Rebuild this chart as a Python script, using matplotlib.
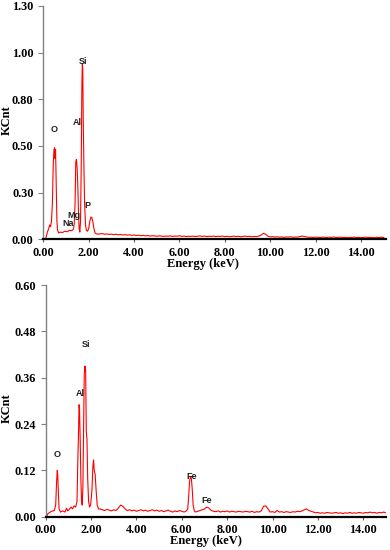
import matplotlib
matplotlib.use("Agg")
import matplotlib.pyplot as plt

# ---------------- data ----------------
# Top spectrum
top_energy = [
    0.00, 0.08, 0.12, 0.18, 0.24, 0.28, 0.32, 0.36, 0.40, 0.44,
    0.47, 0.50, 0.52, 0.54, 0.57, 0.60, 0.63, 0.68, 0.75, 0.85,
    0.95, 1.05, 1.15, 1.25, 1.32, 1.36, 1.40, 1.43, 1.46, 1.49,
    1.52, 1.55, 1.58, 1.61, 1.64, 1.67, 1.70, 1.72, 1.74, 1.76,
    1.79, 1.82, 1.86, 1.90, 1.95, 2.00, 2.05, 2.10, 2.14, 2.18,
    2.23, 2.28, 2.35, 2.42,
    2.5, 2.6, 2.7, 2.8, 2.9, 3.0, 3.1, 3.2, 3.3, 3.4,
    3.5, 3.6, 3.7, 3.8, 3.9, 4.0, 4.1, 4.2, 4.3, 4.4,
    4.5, 4.6, 4.7, 4.8, 4.9, 5.0, 5.1, 5.2, 5.3, 5.4,
    5.5, 5.6, 5.7, 5.8, 5.9, 6.0, 6.1, 6.2, 6.3, 6.4,
    6.5, 6.6, 6.7, 6.8, 6.9, 7.0, 7.1, 7.2, 7.3, 7.4,
    7.5, 7.6, 7.7, 7.8, 7.9, 8.0, 8.1, 8.2, 8.3, 8.4,
    8.5, 8.6, 8.7, 8.8, 8.9, 9.0, 9.1, 9.2, 9.3, 9.4,
    9.5, 9.6, 9.7, 9.8, 9.9, 10.0, 10.1, 10.2, 10.3, 10.4,
    10.5, 10.6, 10.7, 10.8, 10.9, 11.0, 11.1, 11.2, 11.3, 11.4,
    11.5, 11.6, 11.7, 11.8, 11.9, 12.0, 12.1, 12.2, 12.3, 12.4,
    12.5, 12.6, 12.7, 12.8, 12.9, 13.0, 13.1, 13.2, 13.3, 13.4,
    13.5, 13.6, 13.7, 13.8, 13.9, 14.0, 14.1, 14.2, 14.3, 14.4,
    14.5, 14.6, 14.7, 14.8, 14.9, 15.0,
]
top_counts = [
    0.000, 0.000, 0.010, 0.040, 0.060, 0.080, 0.070, 0.100, 0.200, 0.420,
    0.500, 0.510, 0.450, 0.500, 0.300, 0.100, 0.050, 0.035, 0.040, 0.038,
    0.045, 0.042, 0.050, 0.048, 0.055, 0.080, 0.200, 0.430, 0.445, 0.400,
    0.300, 0.150, 0.060, 0.040, 0.100, 0.400, 0.860, 0.980, 0.950, 0.660,
    0.400, 0.200, 0.080, 0.050, 0.045, 0.060, 0.100, 0.125, 0.120, 0.100,
    0.060, 0.035, 0.030, 0.029,
    0.030, 0.032, 0.028, 0.030, 0.027, 0.029, 0.026, 0.028, 0.025, 0.027,
    0.024, 0.026, 0.023, 0.025, 0.022, 0.024, 0.021, 0.023, 0.020, 0.022,
    0.019, 0.021, 0.018, 0.020, 0.019, 0.017, 0.019, 0.018, 0.016, 0.018,
    0.017, 0.019, 0.016, 0.018, 0.017, 0.020, 0.016, 0.018, 0.015, 0.017,
    0.016, 0.018, 0.015, 0.017, 0.019, 0.016, 0.018, 0.015, 0.017, 0.016,
    0.018, 0.015, 0.017, 0.016, 0.018, 0.015, 0.017, 0.014, 0.016, 0.018,
    0.015, 0.017, 0.014, 0.016, 0.018, 0.015, 0.017, 0.014, 0.016, 0.015,
    0.018, 0.024, 0.033, 0.028, 0.016, 0.013, 0.015, 0.012, 0.014, 0.012,
    0.013, 0.011, 0.013, 0.012, 0.014, 0.011, 0.013, 0.012, 0.015, 0.018,
    0.016, 0.013, 0.011, 0.012, 0.010, 0.012, 0.011, 0.010, 0.012, 0.011,
    0.010, 0.012, 0.011, 0.013, 0.010, 0.011, 0.012, 0.010, 0.011, 0.009,
    0.011, 0.010, 0.012, 0.010, 0.011, 0.009, 0.010, 0.012, 0.010, 0.011,
    0.010, 0.009, 0.011, 0.010, 0.012, 0.010,
]
top_labels = ["O", "Al", "Si", "Na", "Mg", "P"]
top_label_E = [0.48, 1.51, 1.76, 1.10, 1.35, 1.94]
top_label_v = [0.61, 0.653, 0.99, 0.089, 0.135, 0.186]
top_yticks = [0.0, 0.26, 0.52, 0.78, 1.04, 1.30]
top_yticklabels = ["0.00", "0.30", "0.50", "0.80", "1.00", "1.30"]

# Bottom spectrum
bot_energy = [
    0.00, 0.05, 0.10, 0.20, 0.30, 0.38, 0.44, 0.48, 0.51, 0.53,
    0.56, 0.59, 0.65, 0.75, 0.85, 0.92, 0.97, 1.05, 1.12, 1.18,
    1.25, 1.32, 1.38, 1.41, 1.44, 1.47, 1.49, 1.52, 1.55, 1.58,
    1.61, 1.64, 1.67, 1.70, 1.73, 1.76, 1.79, 1.82, 1.85, 1.89,
    1.93, 1.98, 2.04, 2.08, 2.11, 2.14, 2.18, 2.22, 2.27, 2.33,
    2.4, 2.5, 2.6, 2.7, 2.8, 2.9, 3.0, 3.1, 3.2, 3.3,
    3.4, 3.5, 3.6, 3.7, 3.8, 3.9, 4.0, 4.1, 4.2, 4.3,
    4.4, 4.5, 4.6, 4.7, 4.8, 4.9, 5.0, 5.1, 5.2, 5.3,
    5.4, 5.5, 5.6, 5.7, 5.8, 5.9, 6.0, 6.1, 6.2,
    6.26, 6.30, 6.34, 6.38, 6.42, 6.46, 6.50, 6.55,
    6.6, 6.7, 6.8, 6.9, 7.0, 7.1, 7.2, 7.3, 7.4, 7.5,
    7.6, 7.7, 7.8, 7.9, 8.0, 8.1, 8.2, 8.3, 8.4, 8.5,
    8.6, 8.7, 8.8, 8.9, 9.0, 9.1, 9.2, 9.3, 9.4, 9.5,
    9.6, 9.7, 9.8, 9.9, 10.0, 10.1, 10.2, 10.3, 10.4, 10.5,
    10.6, 10.7, 10.8, 10.9, 11.0, 11.1, 11.2, 11.3, 11.4, 11.5,
    11.6, 11.7, 11.8, 11.9, 12.0, 12.1, 12.2, 12.3, 12.4, 12.5,
    12.6, 12.7, 12.8, 12.9, 13.0, 13.1, 13.2, 13.3, 13.4, 13.5,
    13.6, 13.7, 13.8, 13.9, 14.0, 14.1, 14.2, 14.3, 14.4, 14.5,
    14.6, 14.7, 14.8, 14.9, 15.0,
]
bot_counts = [
    0.000, 0.002, 0.008, 0.012, 0.015, 0.016, 0.030, 0.090, 0.120, 0.110,
    0.060, 0.020, 0.012, 0.015, 0.012, 0.022, 0.015, 0.020, 0.025, 0.020,
    0.028, 0.025, 0.040, 0.130, 0.200, 0.290, 0.280, 0.200, 0.100, 0.040,
    0.030, 0.080, 0.220, 0.370, 0.390, 0.380, 0.220, 0.200, 0.100, 0.040,
    0.025, 0.030, 0.070, 0.130, 0.147, 0.120, 0.110, 0.070, 0.030, 0.020,
    0.020, 0.018, 0.016, 0.019, 0.017, 0.015, 0.018, 0.016, 0.022, 0.030,
    0.027, 0.020, 0.016, 0.018, 0.015, 0.017, 0.014, 0.016, 0.018, 0.015,
    0.017, 0.014, 0.016, 0.018, 0.015, 0.017, 0.014, 0.016, 0.013, 0.015,
    0.017, 0.014, 0.012, 0.015, 0.013, 0.016, 0.014, 0.012, 0.015,
    0.020, 0.050, 0.090, 0.104, 0.100, 0.070, 0.030, 0.015,
    0.012, 0.014, 0.016, 0.018, 0.020, 0.025, 0.022, 0.016, 0.014, 0.013,
    0.015, 0.012, 0.014, 0.013, 0.015, 0.012, 0.014, 0.013, 0.012, 0.014,
    0.013, 0.012, 0.014, 0.013, 0.012, 0.014, 0.011, 0.013, 0.012, 0.015,
    0.027, 0.028, 0.020, 0.012, 0.013, 0.011, 0.016, 0.012, 0.013, 0.011,
    0.013, 0.012, 0.011, 0.013, 0.012, 0.014, 0.013, 0.015, 0.018, 0.020,
    0.016, 0.014, 0.012, 0.010, 0.011, 0.009, 0.010, 0.009, 0.011, 0.010,
    0.009, 0.010, 0.011, 0.009, 0.010, 0.008, 0.010, 0.009, 0.011, 0.009,
    0.010, 0.009, 0.011, 0.010, 0.009, 0.011, 0.010, 0.012, 0.010, 0.011,
    0.009, 0.011, 0.010, 0.012, 0.010,
]
bot_labels = ["O", "Al", "Si", "Fe", "Fe"]
bot_label_E = [0.51, 1.51, 1.78, 6.43, 7.10]
bot_label_v = [0.162, 0.32, 0.447, 0.105, 0.041]
bot_yticks = [0.0, 0.12, 0.24, 0.36, 0.48, 0.60]
bot_yticklabels = ["0.00", "0.12", "0.24", "0.36", "0.48", "0.60"]

xticks = [0, 2, 4, 6, 8, 10, 12, 14]
xticklabels = ["0.00", "2.00", "4.00", "6.00", "8.00", "10.00", "12.00", "14.00"]

# ---------------- drawing ----------------
W, H = 390, 550
fig = plt.figure(figsize=(W / 100, H / 100), dpi=100)

serif = "Liberation Serif"
sans = "Liberation Sans"


def make_axes(rect, energy, counts, xmax, ymax, yticks, yticklabels,
              labels, lab_E, lab_v, ylab_xy, xlab_xy, xpad):
    ax = fig.add_axes(rect)
    ax.plot(energy, counts, color="#ff0000", lw=0.8)
    ax.set_xlim(0, xmax)
    ax.set_ylim(0, ymax)
    ax.set_xticks(xticks)
    ax.set_xticklabels(xticklabels, fontfamily=serif, fontweight="bold", fontsize=8.8)
    ax.set_yticks(yticks)
    ax.set_yticklabels(yticklabels, fontfamily=serif, fontweight="bold", fontsize=8.8)
    for s in ("top", "right"):
        ax.spines[s].set_visible(False)
    ax.spines["left"].set_color("#808080")
    ax.spines["left"].set_linewidth(1.0)
    ax.spines["bottom"].set_color("black")
    ax.spines["bottom"].set_linewidth(1.6)
    ax.tick_params(axis="y", direction="out", length=3.5, width=0.8,
                   color="#808080", pad=3.5)
    ax.tick_params(axis="x", direction="out", length=2.5, width=0.8,
                   color="#606060", pad=xpad)
    ax.set_ylabel("KCnt", fontfamily=serif, fontweight="bold", fontsize=9)
    ax.yaxis.set_label_coords(*ylab_xy)
    ax.set_xlabel("Energy (keV)", fontfamily=serif, fontweight="bold", fontsize=9)
    ax.xaxis.set_label_coords(*xlab_xy)
    for t, e, v in zip(labels, lab_E, lab_v):
        ax.text(e, v, t, fontfamily=sans, fontweight="bold", fontsize=6.5,
                ha="center", va="center", color="#202020")
    return ax


make_axes([43.3 / W, 1 - 239.3 / H, (386 - 43.3) / W, 233.3 / H],
          top_energy, top_counts, 15.1, 1.30, top_yticks, top_yticklabels,
          top_labels, top_label_E, top_label_v,
          (-0.090, 0.51), (0.466, -0.082), 3.0)

make_axes([45.7 / W, 1 - 516.7 / H, (386 - 45.7) / W, 231.7 / H],
          bot_energy, bot_counts, 15.0, 0.60, bot_yticks, bot_yticklabels,
          bot_labels, bot_label_E, bot_label_v,
          (-0.097, 0.47), (0.47, -0.078), 2.5)

fig.savefig("out.png", dpi=100)
